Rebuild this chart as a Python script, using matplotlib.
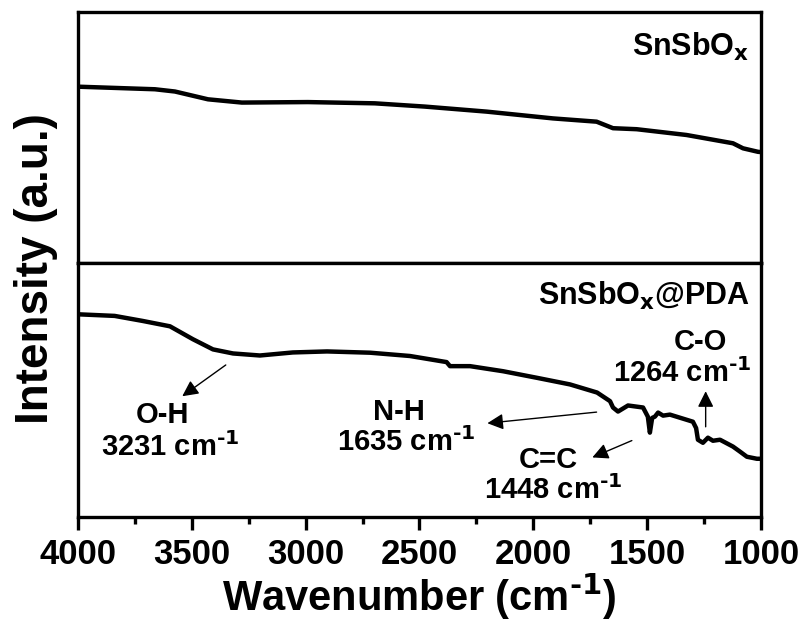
import numpy as np
import matplotlib
matplotlib.use("Agg")
import matplotlib.pyplot as plt

plt.rcParams['font.family'] = ['Liberation Sans', 'DejaVu Sans']
plt.rcParams['font.weight'] = 'bold'
plt.rcParams['mathtext.default'] = 'bf'

# FTIR spectra, wavenumber (cm-1) vs intensity (a.u.)
wn_bare = [4000, 3991, 3662, 3574, 3429, 3280, 2990, 2696, 2476, 2205,
           1914, 1722, 1650, 1546, 1327, 1123, 1079, 1013, 1000]
int_bare = [70.3, 70.2, 69.2, 68.3, 65.2, 63.9, 64.1, 63.6, 62.3, 60.3,
            57.6, 56.3, 53.7, 53.3, 51.0, 47.7, 45.7, 44.3, 44.2]

wn_pda = [4000, 3991, 3839, 3715, 3596, 3495, 3407, 3319, 3201, 3056,
          2906, 2717, 2542, 2381, 2366, 2278, 2133, 1984, 1839, 1720,
          1663, 1650, 1628, 1584, 1518, 1497, 1488, 1478, 1466, 1452,
          1430, 1400, 1299, 1285, 1277, 1255, 1233, 1211, 1180, 1123,
          1092, 1062, 1018, 1000]
int_pda = [80.0, 79.8, 79.2, 77.2, 75.1, 70.0, 66.0, 64.4, 63.6, 64.8,
           65.2, 64.7, 63.4, 61.0, 59.4, 59.4, 57.4, 54.8, 52.2, 49.0,
           45.6, 43.1, 41.5, 43.9, 43.1, 39.5, 33.2, 39.0, 39.5, 41.1,
           39.9, 40.3, 37.5, 35.0, 30.4, 29.2, 31.2, 30.0, 30.4, 27.7,
           25.7, 23.7, 22.9, 22.9]

xticks = [4000, 3500, 3000, 2500, 2000, 1500, 1000]

fig = plt.figure(figsize=(8.04, 6.25), dpi=100)
ax1 = fig.add_axes([0.097, 0.579, 0.8495, 0.402])
ax2 = fig.add_axes([0.097, 0.173, 0.8495, 0.406])

for ax in (ax1, ax2):
    ax.set_xlim(4000, 1000)
    ax.set_ylim(0, 100)
    ax.set_yticks([])
    for s in ax.spines.values():
        s.set_linewidth(2.4)

ax1.plot(wn_bare, int_bare, color='black', lw=3.2)
ax2.plot(wn_pda, int_pda, color='black', lw=3.2)

ax1.tick_params(axis='x', which='both', bottom=False, labelbottom=False)
ax2.set_xticks(xticks)
ax2.set_xticks(np.arange(3750, 1000, -500), minor=True)
ax2.tick_params(axis='x', which='major', direction='out', length=9, width=2.4,
                labelsize=25, pad=6)
ax2.tick_params(axis='x', which='minor', direction='out', length=5, width=2.4)
for lbl in ax2.get_xticklabels():
    lbl.set_fontweight('bold')
ax2.set_xlabel(r'Wavenumber (cm$^{\text{-}1}$)', fontsize=30, fontweight='bold',
               labelpad=0)

fig.text(0.045, 0.57, 'Intensity (a.u.)', rotation=90, fontsize=33,
         fontweight='bold', ha='center', va='center')

ax1.text(1050, 86, 'SnSbO$_x$', fontsize=22, ha='right', va='center')
ax2.text(1050, 87, 'SnSbO$_x$@PDA', fontsize=22, ha='right', va='center')

# peak assignments: arrows and two-line labels
arrow = dict(arrowstyle='-|>', color='black', lw=1, mutation_scale=24)
lab = dict(fontsize=21, ha='center', va='center')
cm = r' cm$^{\text{-}1}$'

ax2.annotate('', xy=(3552, 46.9), xytext=(3341, 60.5), arrowprops=arrow)
ax2.text(3630, 40.0, 'O-H', **lab)
ax2.text(3596, 27.6, '3231' + cm, **lab)

ax2.annotate('', xy=(2214, 36.8), xytext=(1710, 41.4), arrowprops=arrow)
ax2.text(2590, 41.4, 'N-H', **lab)
ax2.text(2560, 29.4, '1635' + cm, **lab)

ax2.annotate('', xy=(1752, 23.0), xytext=(1556, 30.5), arrowprops=arrow)
ax2.text(1935, 22.3, 'C=C', **lab)
ax2.text(1912, 10.4, '1448' + cm, **lab)

ax2.annotate('', xy=(1243, 50.6), xytext=(1243, 34.4), arrowprops=arrow)
ax2.text(1266, 69.0, 'C-O', **lab)
ax2.text(1345, 56.8, '1264' + cm, **lab)

fig.savefig('out.png', dpi=100)
